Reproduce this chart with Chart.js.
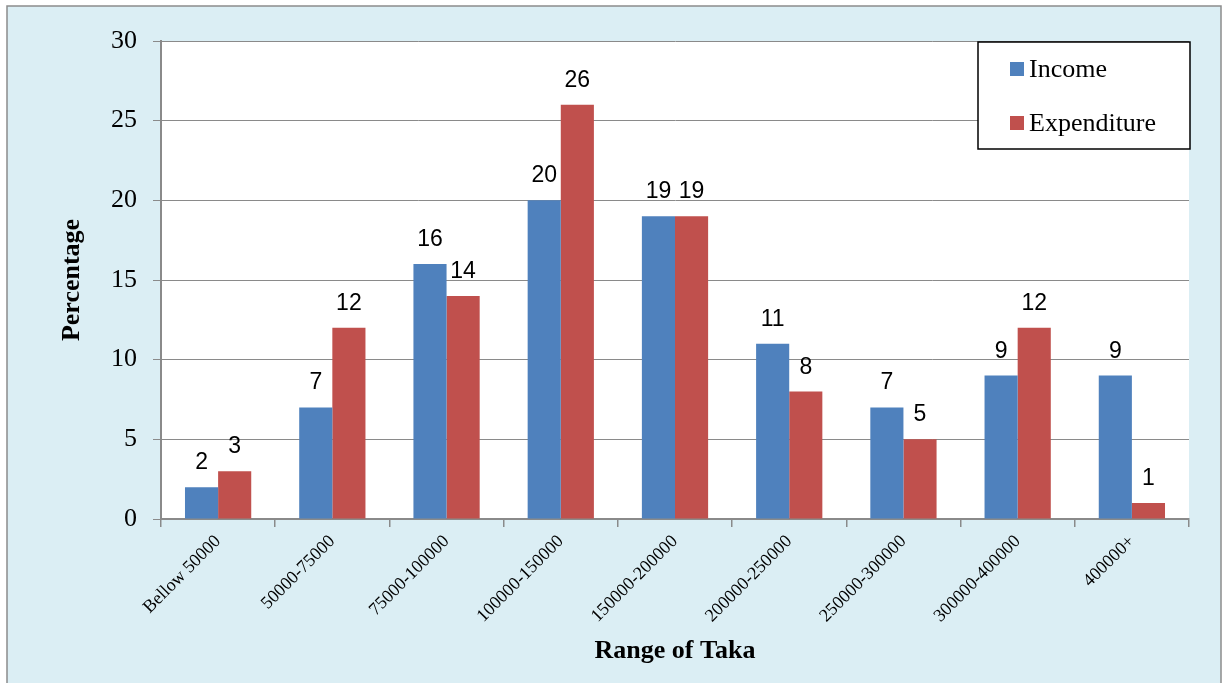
<!DOCTYPE html>
<html>
<head>
<meta charset="utf-8">
<script src="https://cdn.jsdelivr.net/npm/chart.js@4"></script>
<style>
  html, body { margin: 0; padding: 0; background: #fff; overflow: hidden; }
  #wrap { width: 1222px; height: 683px; position: relative; }
</style>
</head>
<body>
<div id="wrap"><canvas id="takaChart"></canvas></div>
<script>
const categories = [
  "Bellow 50000", "50000-75000", "75000-100000", "100000-150000",
  "150000-200000", "200000-250000", "250000-300000", "300000-400000", "400000+",
];
const incomeValues = [2, 7, 16, 20, 19, 11, 7, 9, 9];
const expenditureValues = [3, 12, 14, 26, 19, 8, 5, 12, 1];
const yTicks = [0, 5, 10, 15, 20, 25, 30];

const BLUE = "#4f81bd";
const RED = "#c0504d";
const GRID = "#8a8a8a";
const SERIF = '"Liberation Serif", "Times New Roman", serif';

// light blue frame behind everything, white plot area
const framePlugin = {
  id: "frame",
  beforeDraw(chart) {
    const { ctx, chartArea } = chart;
    ctx.save();
    ctx.fillStyle = "#ffffff";
    ctx.fillRect(0, 0, chart.width, chart.height);
    ctx.fillStyle = "#dbeef4";
    ctx.fillRect(7, 6, 1214, 690);
    ctx.strokeStyle = "#8c8c8c";
    ctx.lineWidth = 1.5;
    ctx.strokeRect(7, 6, 1214, 690);
    ctx.fillStyle = "#ffffff";
    ctx.fillRect(chartArea.left, chartArea.top,
      chartArea.right - chartArea.left, chartArea.bottom - chartArea.top);
    ctx.restore();
  },
};

// value above each bar
const barLabels = {
  id: "barLabels",
  afterDatasetsDraw(chart) {
    const { ctx } = chart;
    ctx.save();
    ctx.font = '23px "Liberation Sans", Arial, sans-serif';
    ctx.fillStyle = "#000";
    ctx.textAlign = "center";
    ctx.textBaseline = "alphabetic";
    chart.data.datasets.forEach((ds, i) => {
      chart.getDatasetMeta(i).data.forEach((bar, j) => {
        ctx.fillText(String(ds.data[j]), bar.x, bar.y - 18);
      });
    });
    ctx.restore();
  },
};

// boxed legend in the top right corner
const boxLegend = {
  id: "boxLegend",
  afterDraw(chart) {
    const { ctx } = chart;
    const x = 978, y = 42, w = 212, h = 107;
    ctx.save();
    ctx.fillStyle = "#fff";
    ctx.fillRect(x, y, w, h);
    ctx.strokeStyle = "#000";
    ctx.lineWidth = 1.5;
    ctx.strokeRect(x, y, w, h);
    ctx.font = "26px " + SERIF;
    ctx.textBaseline = "alphabetic";
    ctx.textAlign = "left";
    chart.data.datasets.forEach((ds, i) => {
      const cy = 69 + i * 54;
      ctx.fillStyle = ds.backgroundColor;
      ctx.fillRect(1010, cy - 7, 14, 14);
      ctx.fillStyle = "#000";
      ctx.fillText(ds.label, 1029, cy + 8);
    });
    ctx.restore();
  },
};

new Chart(document.getElementById("takaChart"), {
  type: "bar",
  data: {
    labels: categories,
    datasets: [
      { label: "Income", data: incomeValues, backgroundColor: BLUE },
      { label: "Expenditure", data: expenditureValues, backgroundColor: RED },
    ],
  },
  options: {
    responsive: true,
    maintainAspectRatio: false,
    animation: false,
    devicePixelRatio: 1,
    layout: { padding: { left: 57, top: 41, right: 33, bottom: 16 } },
    datasets: { bar: { barPercentage: 1, categoryPercentage: 0.58 } },
    plugins: {
      legend: { display: false },
      tooltip: { enabled: false },
    },
    scales: {
      x: {
        grid: { drawOnChartArea: false, color: GRID, tickLength: 8, lineWidth: 1.5 },
        border: { color: GRID, width: 2 },
        ticks: {
          color: "#000",
          font: { family: SERIF, size: 18 },
          minRotation: 45,
          maxRotation: 45,
          padding: 4,
        },
        title: {
          display: true,
          text: "Range of Taka",
          color: "#000",
          font: { family: SERIF, size: 26, weight: "bold" },
          padding: 0,
        },
        afterFit(scale) { scale.height = 148; },
      },
      y: {
        min: 0,
        max: 30,
        afterBuildTicks(scale) { scale.ticks = yTicks.map((v) => ({ value: v })); },
        grid: { color: GRID, tickLength: 8, lineWidth: 1 },
        border: { color: GRID, width: 2 },
        ticks: {
          color: "#000",
          font: { family: SERIF, size: 26 },
          padding: 16,
        },
        title: {
          display: true,
          text: "Percentage",
          color: "#000",
          font: { family: SERIF, size: 26, weight: "bold" },
          padding: 0,
        },
        afterFit(scale) { scale.width = 104; },
      },
    },
  },
  plugins: [framePlugin, barLabels, boxLegend],
});
</script>
</body>
</html>
